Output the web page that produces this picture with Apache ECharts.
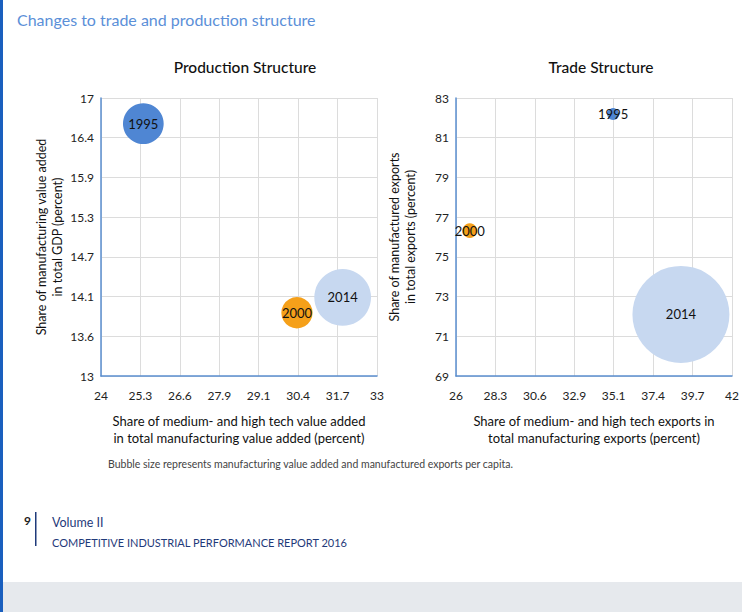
<!DOCTYPE html>
<html>
<head>
<meta charset="utf-8">
<script src="https://cdn.jsdelivr.net/npm/echarts@6/dist/echarts.min.js"></script>
<style>
html,body{margin:0;padding:0;background:#fff;}
#main{width:742px;height:612px;}
</style>
</head>
<body>
<div id="main"></div>
<script>
// ---- data ----
const years = ['1995', '2000', '2014'];
const prodX = [25.38, 30.39, 31.88];      // share of medium/high tech MVA (%)
const prodY = [16.63, 13.91, 14.13];      // share of MVA in GDP (%)
const prodSize = [166, 98, 322];          // MVA per capita (relative)
const tradeX = [35.11, 26.80, 39.04];     // share of medium/high tech exports (%)
const tradeY = [82.19, 76.32, 72.10];     // share of manufactured exports (%)
const tradeSize = [14.4, 21.6, 942];      // manufactured exports per capita (relative)
const prodXRange = [24, 33];
const prodYRange = [13, 17];
const tradeXRange = [26, 42];
const tradeYRange = [69, 83];
const tickCount = 7;

const colors = ['#4f86d3', '#f5a01a', '#c7d8f0'];
const FONT = 'Lato';

function fmt(v) {
  const r = Math.round(v * 10) / 10;
  return Math.abs(r - Math.round(r)) < 1e-9 ? String(Math.round(r)) : r.toFixed(1);
}
function sizeOf(v) { return Math.sqrt(v) * 3.16; }

function xAxis(idx, range, name) {
  return {
    type: 'value', gridIndex: idx, min: range[0], max: range[1],
    interval: (range[1] - range[0]) / tickCount,
    name: name, nameLocation: 'middle', nameGap: 36,
    nameTextStyle: { fontFamily: FONT, fontSize: 13, color: '#111', lineHeight: 17 },
    axisLine: { lineStyle: { color: '#5b8fd0', width: 1.5 } },
    axisTick: { show: false },
    axisLabel: { formatter: fmt, fontFamily: FONT, fontSize: 12, color: '#222', margin: 13, showMinLabel: true, showMaxLabel: true },
    splitLine: { show: true, lineStyle: { color: '#dcdcdc', width: 1 } }
  };
}
function yAxis(idx, range, name, gap) {
  return {
    type: 'value', gridIndex: idx, min: range[0], max: range[1],
    interval: (range[1] - range[0]) / tickCount,
    name: name, nameLocation: 'middle', nameGap: gap, nameRotate: 90,
    nameTextStyle: { fontFamily: FONT, fontSize: 12.5, color: '#111', lineHeight: 16 },
    axisLine: { show: true, lineStyle: { color: '#5b8fd0', width: 1.5 } },
    axisTick: { show: false },
    axisLabel: { formatter: fmt, fontFamily: FONT, fontSize: 12, color: '#222', margin: 7, showMinLabel: true, showMaxLabel: true },
    splitLine: { show: true, lineStyle: { color: '#dcdcdc', width: 1 } }
  };
}
function bubbles(idx, xs, ys, sizes) {
  return years.map((y, i) => ({
    type: 'scatter', xAxisIndex: idx, yAxisIndex: idx, name: y,
    data: [[xs[i], ys[i], sizes[i]]],
    symbolSize: d => sizeOf(d[2]),
    itemStyle: { color: colors[i], opacity: 1 },
    label: { show: true, position: 'inside', formatter: y, fontFamily: FONT, fontSize: 13, color: '#111' },
    z: 3
  }));
}

const chart = echarts.init(document.getElementById('main'), null, { renderer: 'svg' });
chart.setOption({
  animation: false,
  backgroundColor: '#fff',
  title: [
    { text: 'Changes to trade and production structure', left: 12, top: 6,
      textStyle: { fontFamily: FONT, fontSize: 16, fontWeight: 'normal', color: '#5b8fd8' } },
    { text: 'Production Structure', left: 240, top: 54, textAlign: 'center',
      textStyle: { fontFamily: FONT, fontSize: 15.5, fontWeight: 500, color: '#111' } },
    { text: 'Trade Structure', left: 596, top: 54, textAlign: 'center',
      textStyle: { fontFamily: FONT, fontSize: 15.5, fontWeight: 500, color: '#111' } }
  ],
  grid: [
    { left: 101, top: 98, width: 276, height: 278 },
    { left: 456, top: 98, width: 276, height: 278 }
  ],
  xAxis: [
    xAxis(0, prodXRange, 'Share of medium- and high tech value added\nin total manufacturing value added (percent)'),
    xAxis(1, tradeXRange, 'Share of medium- and high tech exports in\ntotal manufacturing exports (percent)')
  ],
  yAxis: [
    yAxis(0, prodYRange, 'Share of manufacturing value added\nin total GDP (percent)', 36),
    yAxis(1, tradeYRange, 'Share of manufactured exports\nin total exports (percent)', 38)
  ],
  series: [].concat(bubbles(0, prodX, prodY, prodSize), bubbles(1, tradeX, tradeY, tradeSize)),
  graphic: [
    { type: 'rect', left: 0, top: 0, shape: { width: 3, height: 612 }, style: { fill: '#1a5fbe' }, z: 10 },
    { type: 'rect', left: 3, top: 582, shape: { width: 739, height: 30 }, style: { fill: '#e6e9ed' }, z: 1 },
    { type: 'text', left: 108, top: 458,
      style: { text: 'Bubble size represents manufacturing value added and manufactured exports per capita.',
        font: '10.5px ' + FONT, fill: '#444' } },
    { type: 'text', left: 24, top: 514, style: { text: '9', font: 'bold 12px ' + FONT, fill: '#222' } },
    { type: 'rect', left: 35, top: 512, shape: { width: 1.5, height: 34 }, style: { fill: '#1f3a7a' } },
    { type: 'text', left: 52, top: 516, style: { text: 'Volume II', font: '12.5px ' + FONT, fill: '#1f3a7a' } },
    { type: 'text', left: 52, top: 537, style: { text: 'COMPETITIVE INDUSTRIAL PERFORMANCE REPORT 2016', font: '11px ' + FONT, fill: '#1f3a7a' } }
  ]
});
</script>
</body>
</html>
